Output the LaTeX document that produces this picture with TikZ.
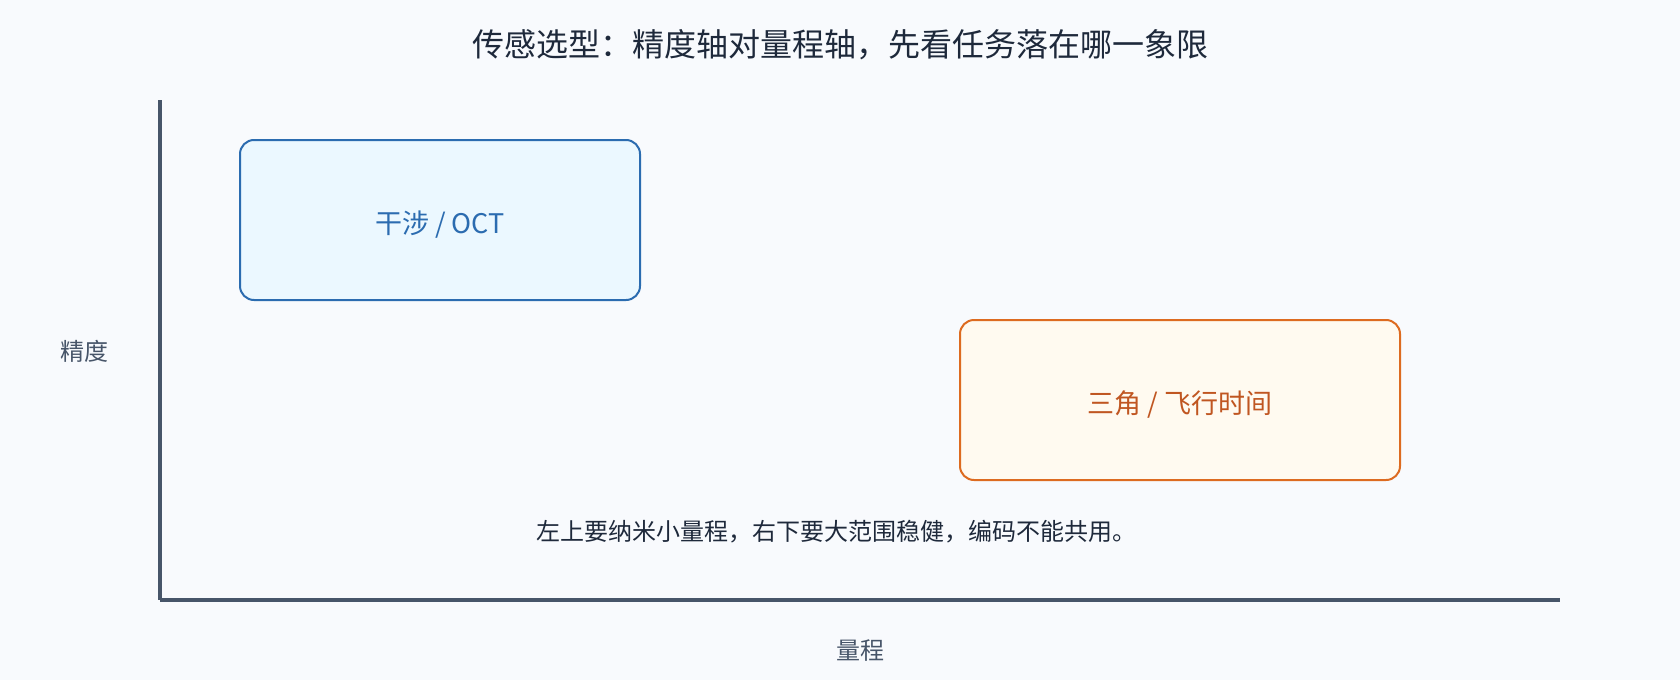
\documentclass[tikz,border=0pt]{standalone}
\usepackage{fontspec}
\setmainfont{Noto Sans CJK SC}
\definecolor{bg}{HTML}{F8FAFD}
\definecolor{axis}{HTML}{475569}
\definecolor{titlec}{HTML}{1E293B}
\definecolor{labelc}{HTML}{475569}
\definecolor{bluefill}{HTML}{EBF8FF}
\definecolor{bluedraw}{HTML}{2B6CB0}
\definecolor{orfill}{HTML}{FFFAF0}
\definecolor{ordraw}{HTML}{DD6B20}
\definecolor{ortext}{HTML}{C05621}
\tikzset{
  quad/.style={draw, line width=2pt, rounded corners=14pt, inner sep=0pt, minimum height=160pt, text height=27pt, text depth=0pt, font=\fontsize{27}{31}\selectfont},
  bluebox/.style={quad, fill=bluefill, draw=bluedraw, text=bluedraw, minimum width=400pt},
  orbox/.style={quad, fill=orfill, draw=ordraw, text=ortext, minimum width=440pt},
  axisline/.style={draw=axis, line width=4pt},
  axlabel/.style={text=labelc, font=\fontsize{24}{28}\selectfont, inner sep=0pt},
}
\begin{document}
\begin{tikzpicture}[x=1pt,y=-1pt]
\useasboundingbox[fill=bg] (0,0) rectangle (1680,680);
\node[text=titlec, font=\fontsize{32}{37}\selectfont, inner sep=0pt] (title) at (840,45) {传感选型：精度轴对量程轴，先看任务落在哪一象限};
\coordinate (ytop) at (160,100);
\coordinate (origin) at (160,600);
\coordinate (xend) at (1560,600);
\draw[axisline] (ytop) -- (origin);
\draw[axisline] (origin) -- (xend);
\node[bluebox] (oct) at (440,220) {干涉 / OCT};
\node[orbox] (tof) at (1180,400) {三角 / 飞行时间};
\node[text=titlec, font=\fontsize{24}{28}\selectfont, inner sep=0pt] (note) at (836,532) {左上要纳米小量程，右下要大范围稳健，编码不能共用。};
\node[axlabel] (ylab) at (84,351) {精度};
\node[axlabel] (xlab) at (860,651) {量程};
\end{tikzpicture}
\end{document}
